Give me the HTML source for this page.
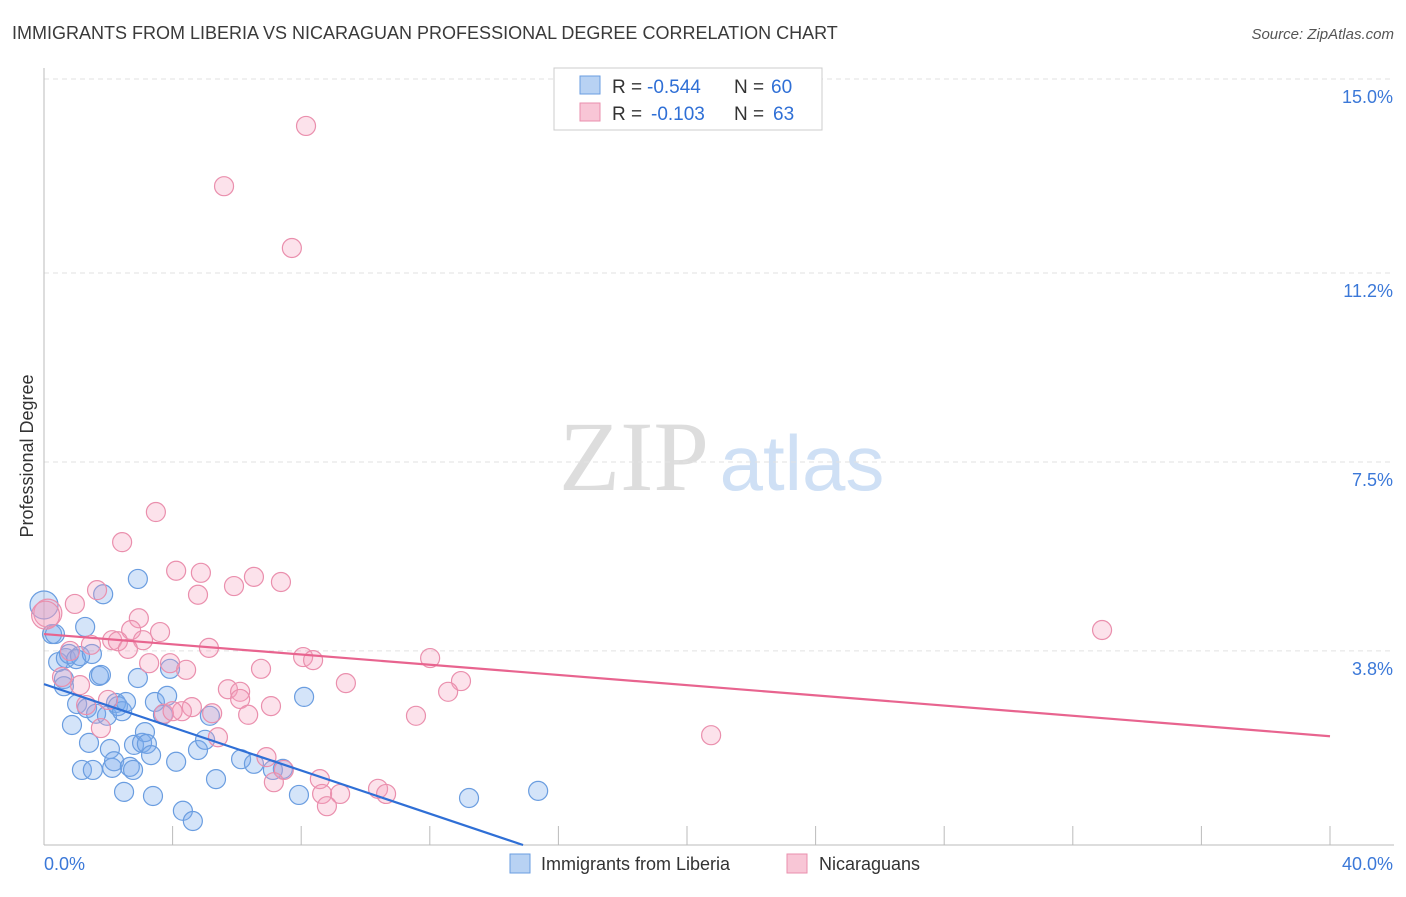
<!DOCTYPE html>
<html><head><meta charset="utf-8"><style>
body{margin:0;background:#fff;font-family:"Liberation Sans",sans-serif;}
svg text{font-family:"Liberation Sans",sans-serif;}
</style></head><body>
<svg id="c" width="1406" height="892">
<text x="12" y="39" font-size="18" fill="#3a3a3a">IMMIGRANTS FROM LIBERIA VS NICARAGUAN PROFESSIONAL DEGREE CORRELATION CHART</text>
<text x="1394" y="39" font-size="15" fill="#555" text-anchor="end" font-style="italic">Source: ZipAtlas.com</text>
<text x="33" y="456" font-size="18" fill="#333" transform="rotate(-90 33 456)" text-anchor="middle">Professional Degree</text>
<g>
<text x="634" y="490" font-size="100" fill="#ddd" text-anchor="middle" style="font-family:'Liberation Serif',serif">ZIP</text>
<text x="802" y="490" font-size="78" fill="#cfe0f5" text-anchor="middle">atlas</text>
</g>
<g id="grid"></g><g id="axes"></g><g id="pts"></g><g id="trend"></g>
<g>
<rect x="554" y="68" width="268" height="62" fill="#fff" stroke="#ccc"/>
<rect x="580" y="76" width="20" height="18" fill="#b8d2f3" stroke="#6a9de0"/>
<rect x="580" y="103" width="20" height="18" fill="#f8c6d6" stroke="#ea8fad"/>
<text x="612" y="93" font-size="19" fill="#333">R =</text>
<text x="647" y="93" font-size="19" fill="#2f6fd6">-0.544</text>
<text x="734" y="93" font-size="19" fill="#333">N =</text>
<text x="771" y="93" font-size="19" fill="#2f6fd6">60</text>
<text x="612" y="120" font-size="19" fill="#333">R =</text>
<text x="651" y="120" font-size="19" fill="#2f6fd6">-0.103</text>
<text x="734" y="120" font-size="19" fill="#333">N =</text>
<text x="773" y="120" font-size="19" fill="#2f6fd6">63</text>
</g>
<g>
<rect x="510" y="854" width="20" height="19" fill="#b8d2f3" stroke="#6a9de0"/>
<text x="541" y="870" font-size="18" fill="#333">Immigrants from Liberia</text>
<rect x="787" y="854" width="20" height="19" fill="#f8c6d6" stroke="#ea8fad"/>
<text x="819" y="870" font-size="18" fill="#333">Nicaraguans</text>
</g>
</svg>
<script>
const yTicks=[3.8,7.5,11.2,15.0];
const yTickLabels=["3.8%","7.5%","11.2%","15.0%"];
const xTicks=[0,4,8,12,16,20,24,28,32,36,40];
const blueX=[0,.25,.34,.44,.62,.68,.78,.87,1.0,1.03,1.12,1.28,1.34,1.40,1.49,1.62,1.71,1.77,1.84,1.96,2.05,2.12,2.18,2.24,2.30,2.43,2.49,2.55,2.67,2.77,2.80,2.92,2.92,3.05,3.14,3.20,3.33,3.39,3.45,3.70,3.83,3.92,4.11,4.32,4.63,4.79,5.01,5.16,5.35,6.13,6.53,7.12,7.43,7.93,8.09,13.22,15.37,1.18,1.52,0.62];
const blueY=[4.70,4.13,4.13,3.58,3.25,3.66,3.74,2.35,3.64,2.76,3.70,4.27,2.68,2.00,3.74,2.57,3.31,3.33,4.91,2.53,1.88,1.51,1.64,2.78,2.72,2.62,1.04,2.80,1.53,1.47,1.96,5.21,3.27,2.00,2.21,1.98,1.76,0.96,2.80,2.55,2.92,3.45,1.63,0.67,0.47,1.86,2.06,2.53,1.29,1.68,1.59,1.47,1.49,0.98,2.90,0.92,1.06,1.47,1.47,3.11];
const pinkX=[8.15,5.60,7.71,3.48,2.43,4.11,4.88,6.53,7.37,5.91,1.65,4.79,0.96,2.95,0.12,3.61,2.71,2.12,2.30,3.08,2.61,5.13,1.46,0.81,8.06,8.37,12.01,3.92,3.27,4.42,6.75,0.56,1.12,9.39,12.97,5.72,6.10,12.57,6.10,1.99,1.31,4.60,7.06,5.23,4.29,3.73,6.35,11.57,1.77,5.41,20.75,32.91,6.92,7.46,7.15,8.58,8.65,9.21,8.80,10.39,10.64,0.05,4.0];
const pinkY=[14.08,12.90,11.69,6.52,5.93,5.37,5.33,5.25,5.15,5.07,4.99,4.90,4.72,4.44,4.54,4.17,4.21,4.01,3.99,4.01,3.84,3.86,3.92,3.80,3.68,3.62,3.66,3.56,3.56,3.43,3.45,3.29,3.13,3.17,3.21,3.05,3.00,3.00,2.86,2.84,2.74,2.70,2.72,2.58,2.62,2.57,2.55,2.53,2.29,2.11,2.15,4.21,1.72,1.47,1.23,1.29,1.00,1.00,0.76,1.10,1.00,4.5,2.62];
const blueTrend=[[0,3.15],[14.9,0]];
const pinkTrend=[[0,4.13],[40,2.13]];
const NS="http://www.w3.org/2000/svg";
const X=v=>44+v*32.15, Y=v=>845-v*51.07;
function mk(t,a,p){const e=document.createElementNS(NS,t);for(const k in a)e.setAttribute(k,a[k]);p.appendChild(e);return e;}
const grid=document.getElementById('grid'),axes=document.getElementById('axes'),pts=document.getElementById('pts'),tr=document.getElementById('trend');
yTicks.forEach((t,i)=>{const g=mk('line',{x1:44,x2:1394,y1:Y(t),y2:Y(t),stroke:'#e2e2e2','stroke-dasharray':'5,4'},grid);


const l=mk('text',{x:1393,y:Y(t)+24,'font-size':18,fill:'#3b78d8','text-anchor':'end'},axes);l.textContent=yTickLabels[i];

});
const ax=mk('line',{x1:44,x2:44,y1:68,y2:845,stroke:'#bbb'},axes);


const bx=mk('line',{x1:44,x2:1394,y1:845,y2:845,stroke:'#bbb'},axes);


xTicks.forEach(t=>{const k=mk('line',{x1:X(t),x2:X(t),y1:826,y2:845,stroke:'#bbb'},axes);

});
[["0.0%",44,'start'],["40.0%",1393,'end']].forEach(d=>{const l=mk('text',{x:d[1],y:870,'font-size':18,fill:'#3b78d8','text-anchor':d[2]},axes);l.textContent=d[0];

});
function series(xs,ys,fill,stroke,name){xs.forEach((x,i)=>{const r=(x<0.2)?14:9.5;const c=mk('circle',{cx:X(x),cy:Y(ys[i]),r:r,fill:fill,stroke:stroke,'stroke-width':1.2},pts);

});}
series(blueX,blueY,'rgba(120,170,235,0.32)','#6a9de0','liberia-point');
series(pinkX,pinkY,'rgba(245,160,190,0.3)','#ea8fad','nicaraguan-point');
const b=mk('line',{x1:X(blueTrend[0][0]),y1:Y(blueTrend[0][1]),x2:X(blueTrend[1][0]),y2:Y(blueTrend[1][1]),stroke:'#2f6fd6','stroke-width':2.2},tr);


const p=mk('line',{x1:X(pinkTrend[0][0]),y1:Y(pinkTrend[0][1]),x2:X(pinkTrend[1][0]),y2:Y(pinkTrend[1][1]),stroke:'#e8648f','stroke-width':2.2},tr);


</script>
</body></html>
